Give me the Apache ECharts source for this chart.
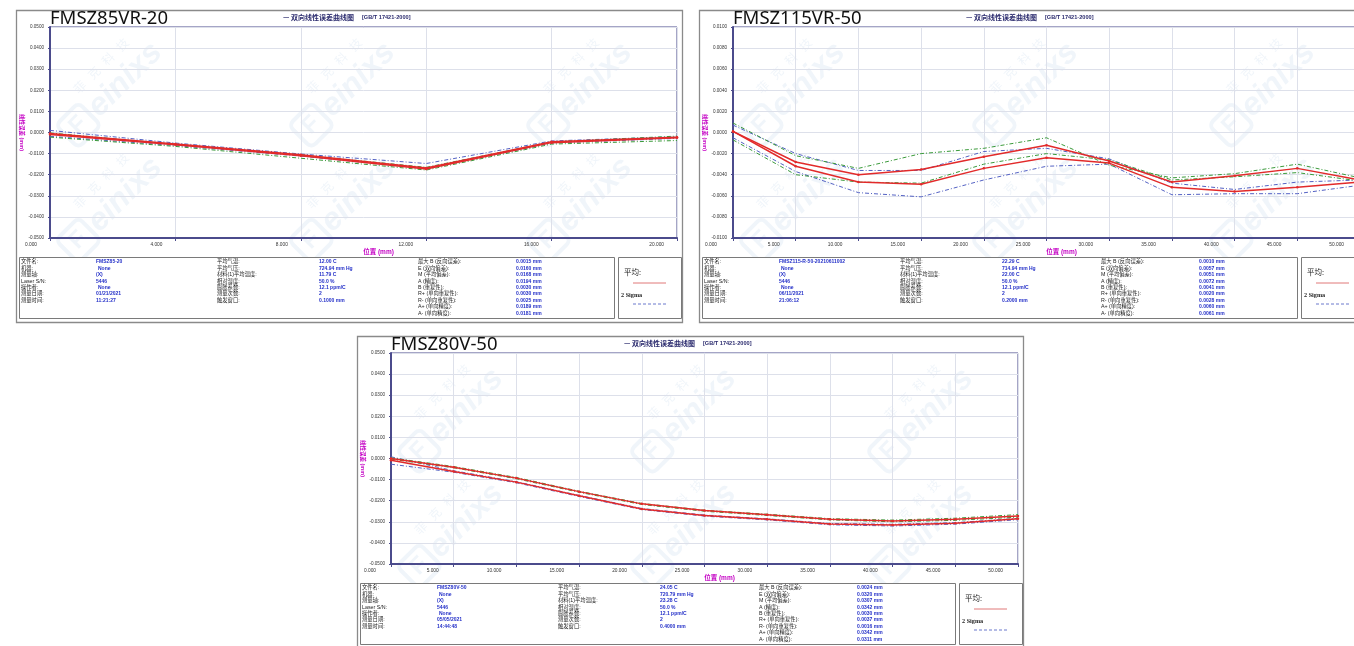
<!DOCTYPE html>
<html><head><meta charset="utf-8">
<script src="https://cdn.jsdelivr.net/npm/echarts@6/dist/echarts.min.js"></script>
<style>
html,body{margin:0;padding:0;background:#fff;overflow:hidden;width:1354px;height:646px}
#c{width:1372px;height:646px;position:absolute;left:0;top:0}
</style>
</head><body><div id="c"></div>
<script>
// ---------- DATA ----------
const panelTitles = ['FMSZ85VR-20', 'FMSZ115VR-50', 'FMSZ80V-50'];
const chartTitle = '— 双向线性误差曲线图';
const chartStd = '[GB/T 17421-2000]';
const xName = '位置 (mm)';
const yName = '线性误差 (mm)';

// Panel 1 (0..20 mm)
const p1X = [0, 4, 8, 12, 16, 20];
const p1MeanA = [-0.0005, -0.0055, -0.0105, -0.0168, -0.0044, -0.0022];
const p1MeanB = [-0.0010, -0.0058, -0.0110, -0.0173, -0.0048, -0.0025];
const p1BlueUp = [0.0010, -0.0050, -0.0102, -0.0147, -0.0040, -0.0020];
const p1BlueLo = [-0.0018, -0.0062, -0.0112, -0.0172, -0.0050, -0.0028];
const p1GreenUp = [-0.0002, -0.0056, -0.0106, -0.0165, -0.0045, -0.0017];
const p1GreenLo = [-0.0022, -0.0066, -0.0122, -0.0178, -0.0055, -0.0038];

// Panel 2 (0..50 mm)
const p2X = [0, 5, 10, 15, 20, 25, 30, 35, 40, 45, 50];
const p2MeanA = [0.0001, -0.0028, -0.0040, -0.0035, -0.0023, -0.0012, -0.0027, -0.0047, -0.0041, -0.0034, -0.0045];
const p2MeanB = [0.0001, -0.0032, -0.0047, -0.0049, -0.0034, -0.0024, -0.0029, -0.0052, -0.0056, -0.0052, -0.0047];
const p2BlueUp = [0.0007, -0.0020, -0.0036, -0.0036, -0.0018, -0.0015, -0.0025, -0.0048, -0.0054, -0.0047, -0.0045];
const p2BlueLo = [-0.0005, -0.0037, -0.0057, -0.0061, -0.0045, -0.0032, -0.0030, -0.0059, -0.0058, -0.0058, -0.0050];
const p2GreenUp = [0.0009, -0.0022, -0.0034, -0.0020, -0.0015, -0.0005, -0.0031, -0.0043, -0.0039, -0.0030, -0.0043];
const p2GreenLo = [-0.0007, -0.0040, -0.0047, -0.0048, -0.0030, -0.0020, -0.0026, -0.0045, -0.0042, -0.0038, -0.0046];

// Panel 3 (0..50 mm)
const p3X = [0, 5, 10, 15, 20, 25, 30, 35, 40, 45, 50];
const p3MeanA = [0.0000, -0.0041, -0.0093, -0.0157, -0.0215, -0.0247, -0.0267, -0.0288, -0.0296, -0.0288, -0.0272];
const p3MeanB = [-0.0008, -0.0062, -0.0112, -0.0177, -0.0239, -0.0270, -0.0288, -0.0311, -0.0315, -0.0307, -0.0286];
const p3GreenUp = [0.0003, -0.0038, -0.0090, -0.0155, -0.0213, -0.0245, -0.0264, -0.0285, -0.0292, -0.0283, -0.0266];
const p3GreenLo = [-0.0003, -0.0044, -0.0096, -0.0160, -0.0218, -0.0250, -0.0270, -0.0291, -0.0300, -0.0293, -0.0278];
const p3BlueUp = [0.0008, -0.0058, -0.0110, -0.0175, -0.0237, -0.0268, -0.0286, -0.0308, -0.0312, -0.0304, -0.0284];
const p3BlueLo = [-0.0027, -0.0065, -0.0115, -0.0180, -0.0242, -0.0273, -0.0291, -0.0314, -0.0320, -0.0311, -0.0290];

// Info tables
const infoLabels1 = ['文件名:', '机器:', '测量轴:', 'Laser S/N:', '操作者:', '测量日期:', '测量时间:'];
const infoLabels2 = ['平均气温:', '平均气压:', '材料(1)平均温度:', '相对湿度:', '膨胀系数:', '测量次数:', '触发窗口:'];
const statLabels = ['最大 B (反向误差):', 'E (双向偏差):', 'M (平均偏差):', 'A (精度):', 'B (重复性):', 'R+ (单向重复性):', 'R- (单向重复性):', 'A+ (单向精度):', 'A- (单向精度):'];
const p1Info1 = ['FMSZ85-20', 'None', '(X)', '5446', 'None', '01/21/2021', '11:21:27'];
const p1Info2 = ['12.00 C', '724.94 mm Hg', '11.79 C', '50.0 %', '12.1 ppm/C', '2', '0.1000 mm'];
const p1Stats = ['0.0015 mm', '0.0160 mm', '0.0168 mm', '0.0194 mm', '0.0030 mm', '0.0030 mm', '0.0025 mm', '0.0189 mm', '0.0181 mm'];
const p2Info1 = ['FMSZ115-R-50-20210611002', 'None', '(X)', '5446', 'None', '06/11/2021', '21:06:12'];
const p2Info2 = ['22.29 C', '714.94 mm Hg', '22.00 C', '50.0 %', '12.1 ppm/C', '2', '0.2000 mm'];
const p2Stats = ['0.0010 mm', '0.0057 mm', '0.0051 mm', '0.0072 mm', '0.0041 mm', '0.0020 mm', '0.0028 mm', '0.0060 mm', '0.0061 mm'];
const p3Info1 = ['FMSZ80V-50', 'None', '(X)', '5446', 'None', '05/05/2021', '14:44:48'];
const p3Info2 = ['24.05 C', '720.79 mm Hg', '23.28 C', '50.0 %', '12.1 ppm/C', '2', '0.4000 mm'];
const p3Stats = ['0.0024 mm', '0.0320 mm', '0.0307 mm', '0.0342 mm', '0.0030 mm', '0.0037 mm', '0.0016 mm', '0.0342 mm', '0.0311 mm'];
const legendMean = '平均:';
const legendSigma = '2 Sigma';

// ---------- BUILD ----------
const RED = '#e22a2a', BLUE = '#5462c4', GREEN = '#3a9a3a', FRAME = '#4b4b8c';
const LATIN = '"Liberation Sans","Noto Sans CJK SC",sans-serif';

const panels = [
  {dx: 0, dy: 0, xMin: 0, xMax: 20, xInt: 4, yMin: -0.05, yMax: 0.05, yInt: 0.01, lblPad: 13,
   x: p1X, mean: [p1MeanA, p1MeanB], blue: [p1BlueUp, p1BlueLo], green: [p1GreenUp, p1GreenLo],
   info1: p1Info1, info2: p1Info2, stats: p1Stats},
  {dx: 683, dy: 0, xMin: 0, xMax: 50, xInt: 5, yMin: -0.01, yMax: 0.01, yInt: 0.002, lblPad: 16,
   x: p2X, mean: [p2MeanA, p2MeanB], blue: [p2BlueUp, p2BlueLo], green: [p2GreenUp, p2GreenLo],
   info1: p2Info1, info2: p2Info2, stats: p2Stats},
  {dx: 341, dy: 326, xMin: 0, xMax: 50, xInt: 5, yMin: -0.05, yMax: 0.05, yInt: 0.01, lblPad: 15,
   x: p3X, mean: [p3MeanA, p3MeanB], blue: [p3BlueUp, p3BlueLo], green: [p3GreenUp, p3GreenLo],
   info1: p3Info1, info2: p3Info2, stats: p3Stats}
];

const grids = [], xAxes = [], yAxes = [], series = [], graphics = [];

function txt(x, y, text, font, fill, align, extra) {
  return Object.assign({type: 'text', x: x, y: y, silent: true, z: 10,
    style: {text: text, font: font, fill: fill, align: align || 'left', verticalAlign: 'middle'}}, extra || {});
}
function watermark(cx, cy) {
  const c = 'rgba(130,170,215,0.12)';
  return {type: 'group', x: cx, y: cy, rotation: Math.PI / 4, silent: true, z: 60, children: [
    {type: 'rect', shape: {x: -64, y: -17, width: 32, height: 32, r: 6}, style: {fill: 'none', stroke: c, lineWidth: 4}},
    {type: 'text', x: -48, y: -1, style: {text: 'F', font: 'bold 24px "Liberation Sans"', fill: c, align: 'center', verticalAlign: 'middle'}},
    {type: 'text', x: -28, y: 0, style: {text: 'einixs', font: 'italic bold 32px "Liberation Sans"', fill: c, verticalAlign: 'middle'}},
    {type: 'text', x: -26, y: -27, style: {text: '菲   克   科   技', font: '12px "Noto Sans CJK SC"', fill: c, verticalAlign: 'middle'}}
  ]};
}
function pair(xs, ys) { return xs.map((x, i) => [x, ys[i]]); }

panels.forEach((p, i) => {
  const ox = p.dx, oy = p.dy;
  grids.push({left: 50 + ox, top: 27 + oy, width: 627, height: 211, show: true,
    borderColor: FRAME, borderWidth: 1, backgroundColor: 'transparent'});
  xAxes.push({type: 'value', gridIndex: i, min: p.xMin, max: p.xMax, interval: p.xInt,
    axisLine: {show: true, onZero: false, lineStyle: {color: FRAME, width: 2}},
    axisTick: {show: true, length: 3, lineStyle: {color: FRAME}},
    axisLabel: {fontSize: 4.8, color: '#333', fontFamily: LATIN, align: 'right', margin: 4,
      padding: [0, p.lblPad, 0, 0], showMinLabel: true, showMaxLabel: true,
      formatter: v => v.toFixed(3)},
    splitLine: {show: true, lineStyle: {color: '#dde0ea', width: 1}},
    name: xName, nameLocation: 'middle', nameGap: 11,
    nameTextStyle: {color: '#c400c4', fontSize: 6.5, fontWeight: 'bold', fontFamily: LATIN, padding: [0, 0, 0, 30]}});
  yAxes.push({type: 'value', gridIndex: i, min: p.yMin, max: p.yMax, interval: p.yInt,
    axisLine: {show: true, onZero: false, lineStyle: {color: FRAME, width: 2}},
    axisTick: {show: true, length: 2, lineStyle: {color: FRAME}},
    axisLabel: {fontSize: 4.6, color: '#333', fontFamily: LATIN, margin: 6, showMinLabel: true, showMaxLabel: true,
      formatter: v => v.toFixed(4)},
    splitLine: {show: true, lineStyle: {color: '#dde0ea', width: 1}},
    name: yName, nameLocation: 'middle', nameGap: 26, nameRotate: -90,
    nameTextStyle: {color: '#c400c4', fontSize: 5.5, fontWeight: 'bold', fontFamily: LATIN}});

  const dash = {type: [4, 2, 1, 2], width: 1};
  [p.blue[0], p.blue[1]].forEach(d => series.push({type: 'line', xAxisIndex: i, yAxisIndex: i,
    data: pair(p.x, d), symbol: 'none', lineStyle: Object.assign({color: BLUE}, dash), z: 2, animation: false}));
  [p.green[0], p.green[1]].forEach(d => series.push({type: 'line', xAxisIndex: i, yAxisIndex: i,
    data: pair(p.x, d), symbol: 'none', lineStyle: Object.assign({color: GREEN}, dash), z: 2, animation: false}));
  [p.mean[0], p.mean[1]].forEach(d => series.push({type: 'line', xAxisIndex: i, yAxisIndex: i,
    data: pair(p.x, d), symbol: 'circle', symbolSize: 2.5, itemStyle: {color: RED},
    lineStyle: {color: RED, width: 1.5}, z: 3, animation: false}));

  // outer panel frame
  graphics.push({type: 'rect', silent: true, z: 1, shape: {x: 16.5 + ox, y: 10.5 + oy, width: 666, height: 312},
    style: {fill: 'none', stroke: '#8a8a8a', lineWidth: 1.3}});
  // titles
  graphics.push(txt(50 + ox, 19 + oy, panelTitles[i], '18.5px "Noto Sans"', '#111'));
  graphics.push(txt(283 + ox, 17 + oy, chartTitle, 'bold 7px "Noto Sans CJK SC"', '#2b2b6e'));
  graphics.push(txt(362 + ox, 17 + oy, chartStd, 'bold 5.6px ' + LATIN, '#2b2b6e'));
  // table boxes
  graphics.push({type: 'rect', silent: true, z: 1, shape: {x: 19.5 + ox, y: 257.5 + oy, width: 595, height: 61},
    style: {fill: '#fff', stroke: '#7a7a7a', lineWidth: 1}});
  graphics.push({type: 'rect', silent: true, z: 1, shape: {x: 618.5 + ox, y: 257.5 + oy, width: 63, height: 61},
    style: {fill: '#fff', stroke: '#7a7a7a', lineWidth: 1}});
  const r0 = 262 + oy, rs = 6.4;
  const lab = '5.3px ' + LATIN, val = 'bold 5px ' + LATIN;
  infoLabels1.forEach((t, k) => graphics.push(txt(21 + ox, r0 + k * rs, t, lab, '#222')));
  p.info1.forEach((t, k) => graphics.push(txt((t === 'None' ? 98 : 96) + ox, r0 + k * rs, t, val, '#2430c8')));
  infoLabels2.forEach((t, k) => graphics.push(txt(217 + ox, r0 + k * rs, t, lab, '#222')));
  p.info2.forEach((t, k) => graphics.push(txt(319 + ox, r0 + k * rs, t, val, '#2430c8')));
  statLabels.forEach((t, k) => graphics.push(txt(418 + ox, r0 + k * rs, t, lab, '#222')));
  p.stats.forEach((t, k) => graphics.push(txt(516 + ox, r0 + k * rs, t, val, '#2430c8')));
  // legend
  graphics.push(txt(624 + ox, 272.5 + oy, legendMean, '7.5px "Noto Sans CJK SC"', '#222'));
  graphics.push({type: 'line', silent: true, z: 10, shape: {x1: 633 + ox, y1: 283 + oy, x2: 666 + ox, y2: 283 + oy},
    style: {stroke: '#e07878', lineWidth: 1}});
  graphics.push(txt(621 + ox, 295 + oy, legendSigma, 'bold 6.2px "Liberation Serif"', '#222'));
  graphics.push({type: 'line', silent: true, z: 10, shape: {x1: 633 + ox, y1: 304 + oy, x2: 666 + ox, y2: 304 + oy},
    style: {stroke: '#6a78cc', lineWidth: 1, lineDash: [3, 2]}});
  // watermarks
  [[113, 92], [346, 92], [583, 92], [113, 207], [346, 207], [583, 207]].forEach(w =>
    graphics.push(watermark(w[0] + ox, w[1] + oy)));
});

const chart = echarts.init(document.getElementById('c'), null, {renderer: 'canvas'});
chart.setOption({
  animation: false,
  backgroundColor: '#fff',
  grid: grids, xAxis: xAxes, yAxis: yAxes, series: series,
  graphic: {elements: graphics}
});
</script>
</body></html>
